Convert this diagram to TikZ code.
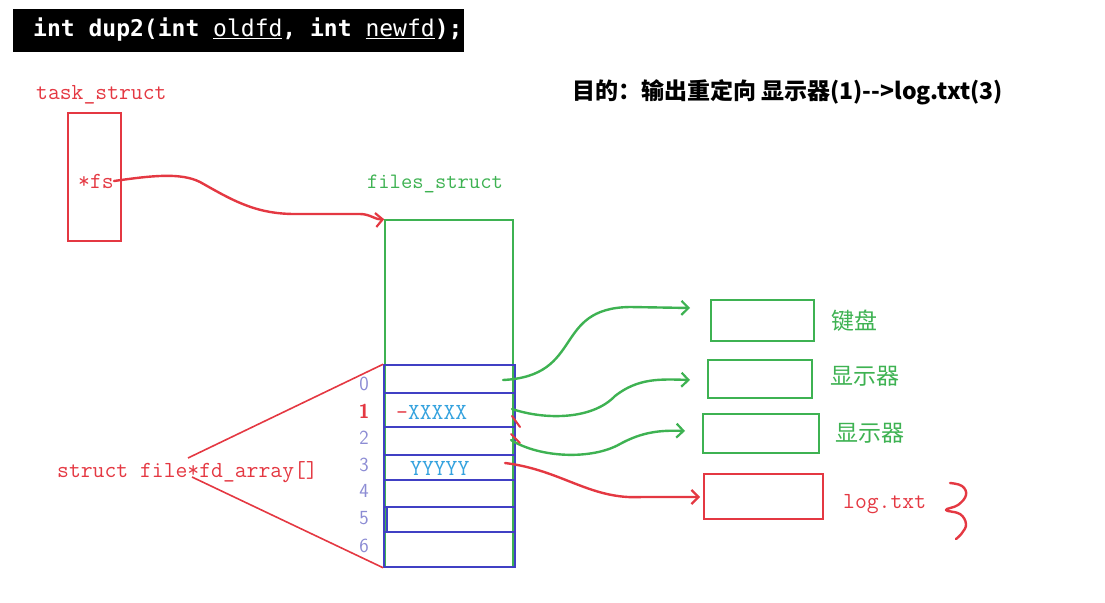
\documentclass[tikz,border=0pt]{standalone}
\usepackage{fontspec}
\newfontfamily\cjk{Noto Sans CJK SC}
\newfontfamily\codefont{DejaVu Sans Mono}
\usetikzlibrary{arrows.meta}
\definecolor{hred}{RGB}{228,56,66}
\definecolor{hgreen}{RGB}{62,178,82}
\definecolor{hblue}{RGB}{64,64,196}
\definecolor{hcyan}{RGB}{52,162,222}
\definecolor{hnum}{RGB}{140,140,212}
\tikzset{
  box/.style={draw=#1, line width=1.6pt, inner sep=0pt, anchor=center},
  serif/.style={font=\ttfamily\fontsize{23}{23}\selectfont, inner sep=0pt},
  cjklabel/.style={font=\cjk\fontsize{23}{23}\selectfont, text=hgreen, inner sep=0pt},
  hand/.style={line width=2.4pt, line cap=round, line join=round},
  tip/.style={-{Straight Barb[length=7pt,width=14pt,line width=2.2pt]}},
  num/.style={font=\sffamily\fontsize{20}{20}\selectfont, text=hnum, inner sep=0pt},
}
\begin{document}
\begin{tikzpicture}[x=1pt,y=-1pt]
\useasboundingbox (0,0) rectangle (1105,602);
% top bar
\fill[black] (13,9) rectangle (464,52);
\node[anchor=west, inner sep=0pt, text=white, font=\codefont\fontsize{23}{23}\selectfont] (sig) at (33,30)
  {\bfseries int dup2(int \mdseries\underline{oldfd}\bfseries, int \mdseries\underline{newfd}\bfseries);};
% title
\node[anchor=west, inner sep=0pt, font=\cjk\bfseries\fontsize{23}{23}\selectfont] (goal) at (572,92)
  {目的：输出重定向 显示器(1)-->log.txt(3)};
% task_struct
\node[serif, text=hred, anchor=west] (tasklbl) at (36,95) {task\_struct};
\node[box=hred, minimum width=53pt, minimum height=128pt] (task) at (94.5,177) {};
\node[serif, text=hred] (fs) at (96,181) {*fs};
% files_struct
\node[serif, text=hgreen, font=\ttfamily\fontsize{22}{22}\selectfont] (fileslbl) at (435,184) {files\_struct};
\node[box=hgreen, minimum width=128pt, minimum height=347pt] (files) at (449,393.5) {};
% fd array
\node[box=hblue, minimum width=131pt, minimum height=202pt] (fdarr) at (449.5,466) {};
\foreach \yy in {393,427,455,480,507,532}
  \draw[hblue, line width=1.6pt] (384,\yy) -- (515,\yy);
\draw[hblue, line width=2.4pt] (384,455) rectangle (515,480);
\draw[hblue, line width=2.4pt] (387,507) rectangle (515,532);
\draw[hblue, line width=2.6pt] (515,455) -- (515,567);
\node[serif, text=hcyan, anchor=west] (xx) at (396,412) {\textcolor{hred}{-}XXXXX};
\node[serif, text=hcyan, anchor=west] (yy) at (410,468) {YYYYY};
% index numbers
\node[num] (n0) at (364,384) {0};
\node[num, text=hred, font=\sffamily\bfseries\fontsize{20}{20}\selectfont] (n1) at (364,411) {1};
\node[num] (n2) at (364,438) {2};
\node[num] (n3) at (364,465) {3};
\node[num] (n4) at (364,491) {4};
\node[num] (n5) at (364,518) {5};
\node[num] (n6) at (364,546) {6};
% fd_array label and fan
\node[serif, text=hred, anchor=west] (fdlbl) at (57,472) {struct file*fd\_array[]};
\coordinate (fanA) at (188,458);
\coordinate (fanB) at (192,477);
\draw[hred, line width=1.6pt] (fanA) -- (fdarr.north west);
\draw[hred, line width=1.6pt] (fanB) -- (fdarr.south west);
% device boxes
\node[box=hgreen, minimum width=103pt, minimum height=41pt] (kbd) at (762.5,320.5) {};
\node[box=hgreen, minimum width=104pt, minimum height=38pt] (scr1) at (760,379) {};
\node[box=hgreen, minimum width=116pt, minimum height=39pt] (scr2) at (761,433.5) {};
\node[box=hred, minimum width=119pt, minimum height=45pt] (logbox) at (763.5,496.5) {};
\node[cjklabel] (kbdlbl) at (854,321) {键盘};
\node[cjklabel] (scr1lbl) at (865,376) {显示器};
\node[cjklabel] (scr2lbl) at (870,433) {显示器};
\node[serif, text=hred, anchor=west] (loglbl) at (843,504) {log.txt};
% arrow end points
\coordinate (s0) at (503,380);
\coordinate (s1) at (512,409);
\coordinate (s2) at (511,440);
\coordinate (s3) at (505,463);
\coordinate (e0) at (690,308);
\coordinate (e1) at (690,380);
\coordinate (e2) at (685,431);
\coordinate (e3) at (700,497);
% fs arrow
\draw[hred, hand, tip] (fs.east) .. controls (150,176) and (180,172) .. (200,182)
   .. controls (232,200) and (255,214) .. (295,214) -- (360,214)
   .. controls (370,214) and (376,220) .. (files.north west);
% green arrows
\draw[hgreen, hand, tip] (s0) .. controls (585,376) and (552,308) .. (630,307) -- (e0);
\draw[hgreen, hand, tip] (s1) .. controls (545,420) and (592,420) .. (615,396)
   .. controls (638,378) and (660,379) .. (e1);
\draw[hgreen, hand, tip] (s2) .. controls (540,458) and (592,460) .. (620,444)
   .. controls (642,432) and (660,430) .. (e2);
% red arrow to log.txt
\draw[hred, hand, tip] (s3) .. controls (562,470) and (590,500) .. (642,497) -- (e3);
% red ticks
\draw[hred, line width=2pt, line cap=round] (512,416) -- (520,427);
\draw[hred, line width=2pt, line cap=round] (511,434) -- (520,443);
% brace
\draw[hred, hand] plot[smooth, tension=0.7] coordinates {(950,483) (962,486) (966,495) (958,505) (946,510) (960,514) (966,524) (962,533) (956,539)};
\end{tikzpicture}
\end{document}
